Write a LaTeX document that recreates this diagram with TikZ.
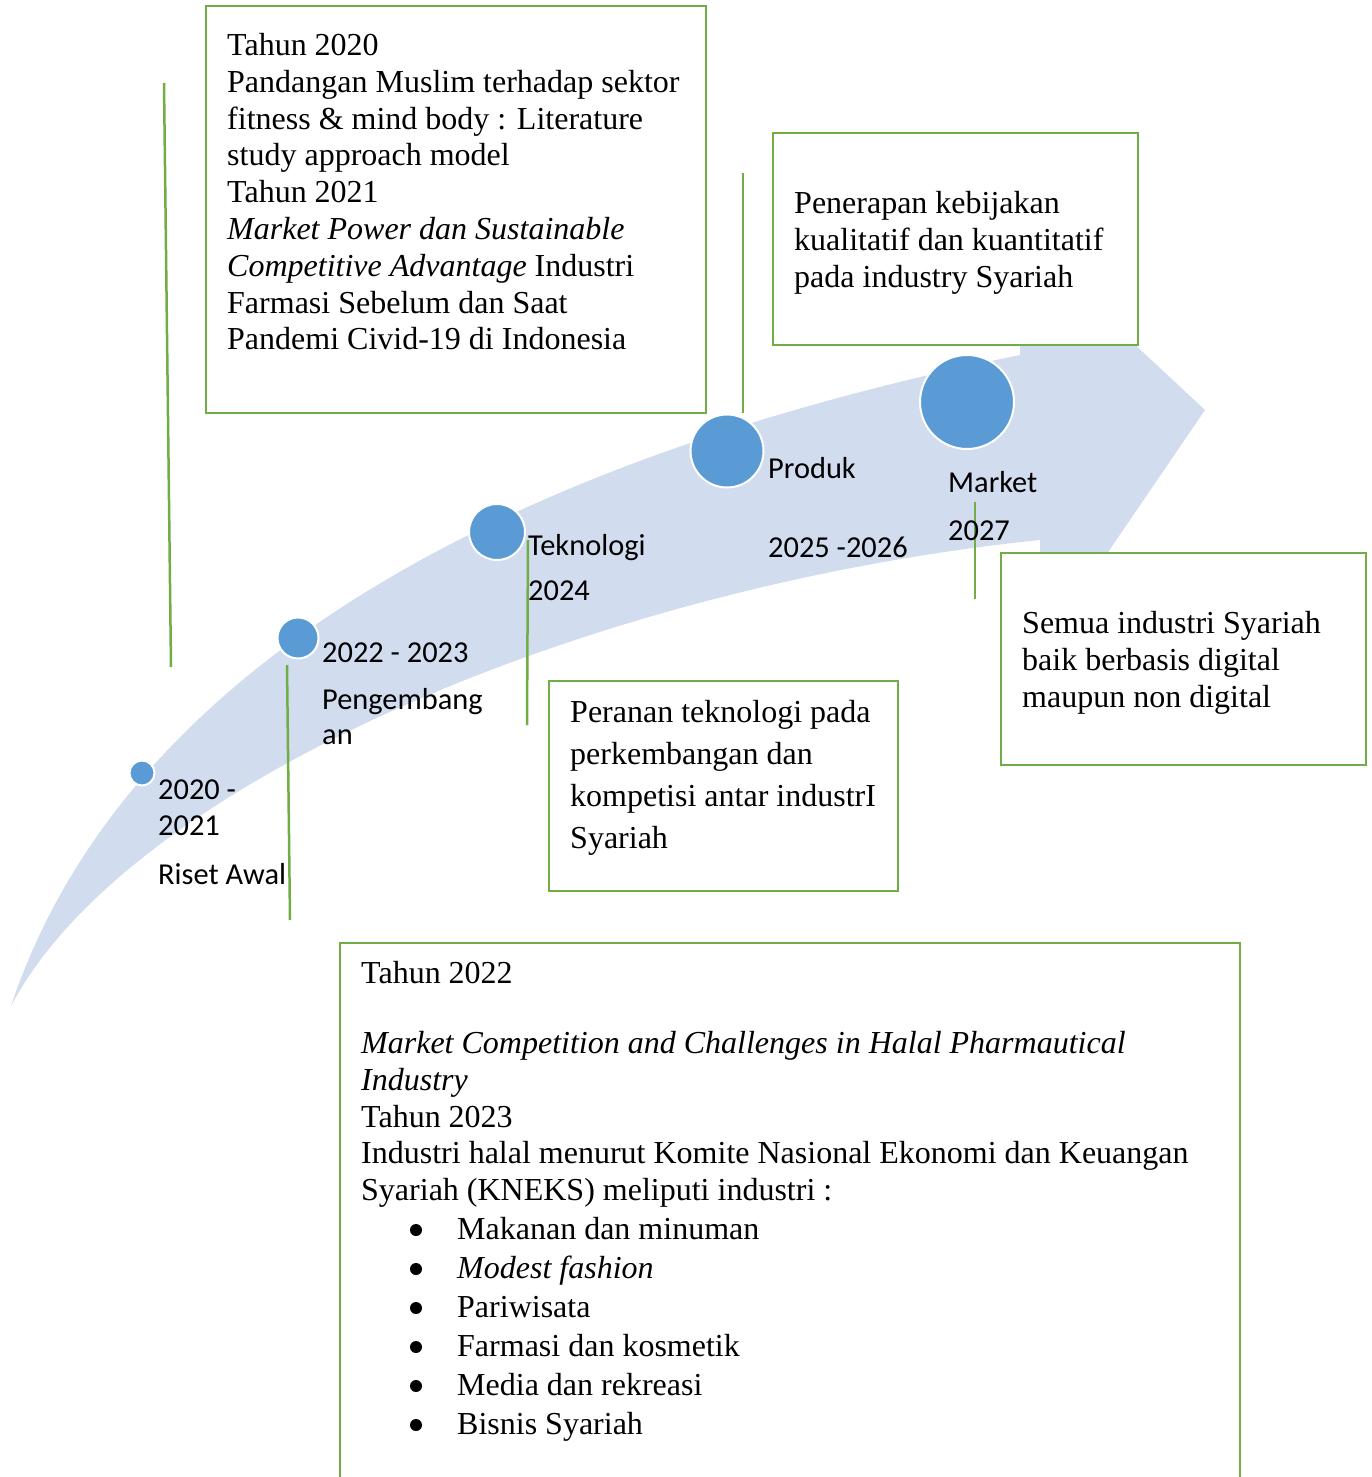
\documentclass[tikz,border=0pt]{standalone}
\usepackage{fontspec}
\setmainfont{Liberation Serif}
\newfontfamily\lblfont{Carlito}
\definecolor{bandblue}{RGB}{209,220,239}
\definecolor{dotblue}{RGB}{91,155,213}
\definecolor{leafgreen}{RGB}{112,173,71}

\begin{document}
\begin{tikzpicture}[x=1pt,y=-1pt,
  textbox/.style={draw=leafgreen, line width=2.5pt, fill=white, anchor=north west, inner sep=0pt, outer sep=0pt},
  boxtext/.style={anchor=north west, inner sep=0pt, align=left, font=\fontsize{32}{36.8}\selectfont},
  lbl/.style={anchor=base west, inner sep=0pt, font=\lblfont\fontsize{30.4}{36}\selectfont},
  dot/.style={circle, fill=dotblue, draw=white, line width=2pt, inner sep=0pt},
  leader/.style={leafgreen, line width=2.5pt}]
  \useasboundingbox (0,0) rectangle (1371,1477);

  % curved arrow band
  \fill[bandblue] (11,1006) .. controls (120,680) and (480,465) .. (1020,355)
    -- (1020,330) -- (1087,300) -- (1205,410) -- (1089,580) -- (1040,565) -- (1040,540)
    .. controls (600,585) and (130,780) .. (11,1006) -- cycle;

  % leader lines
  \coordinate (k1a) at (164,83);   \coordinate (k1b) at (171,667);
  \coordinate (k2a) at (287,665);  \coordinate (k2b) at (290,920);
  \coordinate (k3a) at (528,540);  \coordinate (k3b) at (527,725);
  \coordinate (k4a) at (743,173);  \coordinate (k4b) at (743,413);
  \coordinate (k5a) at (975,502);  \coordinate (k5b) at (975,599);
  \draw[leader] (k1a) -- (k1b);
  \draw[leader] (k2a) -- (k2b);
  \draw[leader] (k3a) -- (k3b);
  \draw[leader] (k4a) -- (k4b);
  \draw[leader] (k5a) -- (k5b);

  % milestones
  \node[dot, minimum size=25pt] (d1) at (142,773) {};
  \node[dot, minimum size=41pt] (d2) at (298,638) {};
  \node[dot, minimum size=56pt] (d3) at (497,532) {};
  \node[dot, minimum size=73pt] (d4) at (727,451) {};
  \node[dot, minimum size=94pt] (d5) at (967,402) {};

  % milestone labels
  \node[lbl] (l1a) at (158,799) {2020 -};
  \node[lbl] (l1b) at (158,835) {2021};
  \node[lbl] (l1c) at (158,884) {Riset Awal};
  \node[lbl] (l2a) at (322,662) {2022 - 2023};
  \node[lbl] (l2b) at (322,709) {Pengembang};
  \node[lbl] (l2c) at (322,744) {an};
  \node[lbl] (l3a) at (528,555) {Teknologi};
  \node[lbl] (l3b) at (528,600) {2024};
  \node[lbl] (l4a) at (768,478) {Produk};
  \node[lbl] (l4b) at (768,557) {2025 -2026};
  \node[lbl] (l5a) at (948,492) {Market};
  \node[lbl] (l5b) at (948,540) {2027};

  % boxes
  \node[textbox, minimum width=500pt, minimum height=407pt] (b1) at (206,6) {};
  \node[textbox, minimum width=365pt, minimum height=212pt] (b2) at (773,133) {};
  \node[textbox, minimum width=349pt, minimum height=210pt] (b3) at (549,681) {};
  \node[textbox, minimum width=365pt, minimum height=212pt] (b4) at (1001,553) {};
  \node[textbox, minimum width=900pt, minimum height=600pt] (b5) at (340,943) {};

  \node[boxtext] (t1) at (227,33) {Tahun 2020\\
    Pandangan Muslim terhadap sektor\\
    fitness \& mind body : Literature\\
    study approach model\\
    Tahun 2021\\
    \textit{Market Power dan Sustainable}\\
    \textit{Competitive Advantage} Industri\\
    Farmasi Sebelum dan Saat\\
    Pandemi Civid-19 di Indonesia};
  \node[boxtext] (t2) at (794,191) {Penerapan kebijakan\\
    kualitatif dan kuantitatif\\
    pada industry Syariah};
  \node[boxtext, font=\fontsize{32}{42}\selectfont] (t3) at (570,700) {Peranan teknologi pada\\
    perkembangan dan\\
    kompetisi antar industrI\\
    Syariah};
  \node[boxtext] (t4) at (1022,611) {Semua industri Syariah\\
    baik berbasis digital\\
    maupun non digital};
  \node[boxtext] (t5) at (361,961) {Tahun 2022\\[33.2pt]
    \textit{Market Competition and Challenges in Halal Pharmautical}\\
    \textit{Industry}\\
    Tahun 2023\\
    Industri halal menurut Komite Nasional Ekonomi dan Keuangan\\
    Syariah (KNEKS) meliputi industri :\\[2.2pt]
    \hspace*{96pt}Makanan dan minuman\\[2.2pt]
    \hspace*{96pt}\textit{Modest fashion}\\[2.2pt]
    \hspace*{96pt}Pariwisata\\[2.2pt]
    \hspace*{96pt}Farmasi dan kosmetik\\[2.2pt]
    \hspace*{96pt}Media dan rekreasi\\[2.2pt]
    \hspace*{96pt}Bisnis Syariah};

  % list bullets
  \foreach \yy in {1230,1269,1308,1347,1386,1425}
    \fill (416,\yy) circle (6pt);
\end{tikzpicture}
\end{document}
